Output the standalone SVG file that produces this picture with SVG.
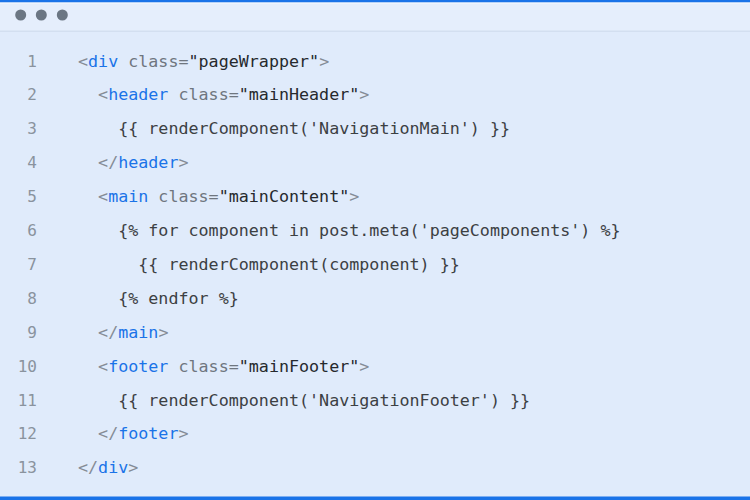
<svg xmlns="http://www.w3.org/2000/svg" width="750" height="500" viewBox="0 0 750 500">
<style>
.code{font-family:"DejaVu Sans Mono","Liberation Mono",monospace;font-size:16.7px;fill:#3c4043}
.ln{font-family:"DejaVu Sans Mono","Liberation Mono",monospace;font-size:16px;fill:#8a939e;text-anchor:end}
.p{fill:#858c96}
.t{fill:#1a73e8}
.a{fill:#6f767f}
.v{fill:#26292d}
.dot{fill:#6b7683}
</style>
<rect x="0" y="0" width="750" height="500" fill="#e0ebfb"/>
<g id="titlebar">
<rect x="0" y="0" width="750" height="31" fill="#e5eefc"/>
<rect x="0" y="30.5" width="750" height="1.5" fill="#d3dff0"/>
<rect x="0" y="0" width="750" height="2.5" fill="#1a73e8"/>
<rect x="0" y="2.5" width="750" height="1.5" fill="#eef4fd"/>
<circle class="dot" cx="20.7" cy="15" r="5.5"/>
<circle class="dot" cx="41.3" cy="15" r="5.5"/>
<circle class="dot" cx="62.3" cy="15" r="5.5"/>
</g>
<g id="line-numbers">
<text class="ln" x="37" y="66.5">1</text>
<text class="ln" x="37" y="100.4">2</text>
<text class="ln" x="37" y="134.3">3</text>
<text class="ln" x="37" y="168.2">4</text>
<text class="ln" x="37" y="202.1">5</text>
<text class="ln" x="37" y="236">6</text>
<text class="ln" x="37" y="269.9">7</text>
<text class="ln" x="37" y="303.8">8</text>
<text class="ln" x="37" y="337.7">9</text>
<text class="ln" x="37" y="371.6">10</text>
<text class="ln" x="37" y="405.5">11</text>
<text class="ln" x="37" y="439.4">12</text>
<text class="ln" x="37" y="473.3">13</text>
</g>
<g id="code" xml:space="preserve">
<text class="code" x="78" y="66.5"><tspan class="p">&lt;</tspan><tspan class="t">div</tspan><tspan class="a"> class=</tspan><tspan class="v">"pageWrapper"</tspan><tspan class="p">&gt;</tspan></text>
<text class="code" x="98.1" y="100.4"><tspan class="p">&lt;</tspan><tspan class="t">header</tspan><tspan class="a"> class=</tspan><tspan class="v">"mainHeader"</tspan><tspan class="p">&gt;</tspan></text>
<text class="code" x="118.2" y="134.3">{{ renderComponent('NavigationMain') }}</text>
<text class="code" x="98.1" y="168.2"><tspan class="p">&lt;/</tspan><tspan class="t">header</tspan><tspan class="p">&gt;</tspan></text>
<text class="code" x="98.1" y="202.1"><tspan class="p">&lt;</tspan><tspan class="t">main</tspan><tspan class="a"> class=</tspan><tspan class="v">"mainContent"</tspan><tspan class="p">&gt;</tspan></text>
<text class="code" x="118.2" y="236">{% for component in post.meta('pageComponents') %}</text>
<text class="code" x="138.3" y="269.9">{{ renderComponent(component) }}</text>
<text class="code" x="118.2" y="303.8">{% endfor %}</text>
<text class="code" x="98.1" y="337.7"><tspan class="p">&lt;/</tspan><tspan class="t">main</tspan><tspan class="p">&gt;</tspan></text>
<text class="code" x="98.1" y="371.6"><tspan class="p">&lt;</tspan><tspan class="t">footer</tspan><tspan class="a"> class=</tspan><tspan class="v">"mainFooter"</tspan><tspan class="p">&gt;</tspan></text>
<text class="code" x="118.2" y="405.5">{{ renderComponent('NavigationFooter') }}</text>
<text class="code" x="98.1" y="439.4"><tspan class="p">&lt;/</tspan><tspan class="t">footer</tspan><tspan class="p">&gt;</tspan></text>
<text class="code" x="78" y="473.3"><tspan class="p">&lt;/</tspan><tspan class="t">div</tspan><tspan class="p">&gt;</tspan></text>
</g>
<rect id="bottom-border" x="0" y="496.5" width="750" height="3.5" fill="#1a73e8"/>
</svg>
